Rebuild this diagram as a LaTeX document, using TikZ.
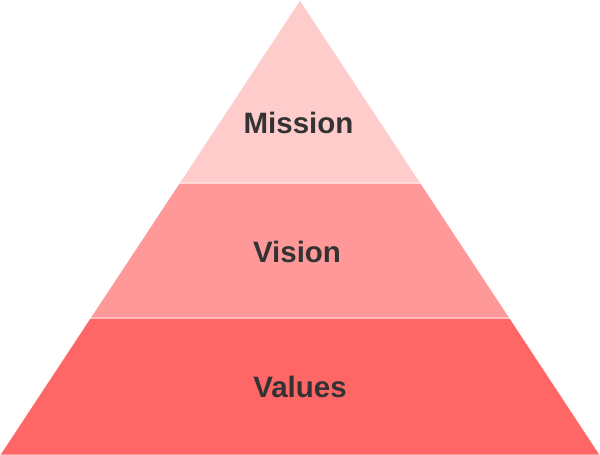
\documentclass[tikz,border=0pt]{standalone}
\usepackage{fontspec}
\setmainfont{Liberation Sans}
\usepackage{xcolor}
\usetikzlibrary{positioning}

\definecolor{tierlight}{HTML}{FFCCCC}
\definecolor{tiermid}{HTML}{FF9999}
\definecolor{tierdark}{HTML}{FF6666}
\definecolor{labelgray}{HTML}{333333}

\begin{document}
\begin{tikzpicture}[
  x=1pt, y=-1pt,
  tier/.style={fill=#1, draw=white, line width=0.6pt, line join=miter},
  lbl/.style={font=\fontsize{29.5}{35}\selectfont\bfseries, text=labelgray,
              anchor=base, inner sep=0pt},
]
\useasboundingbox (0,0) rectangle (600,455);

%% ===== CORNERS =====
\coordinate (apex) at (300,0);
\coordinate (upl) at (179.4,183);
\coordinate (upr) at (420.6,183);
\coordinate (lowl) at (90.3,318);
\coordinate (lowr) at (509.7,318);
\coordinate (basel) at (0,455);
\coordinate (baser) at (600,455);

%% ===== TIERS =====
\path[tier=tierdark] (lowl) -- (lowr) -- (baser) -- (basel) -- cycle;
\path[tier=tiermid] (upl) -- (upr) -- (lowr) -- (lowl) -- cycle;
\path[tier=tierlight] (apex) -- (upr) -- (upl) -- cycle;

%% ===== LABELS =====
\node[lbl] (mission) at (298.5,133) {Mission};
\node[lbl] (vision) at (297,262) {Vision};
\node[lbl] (values) at (300,397) {Values};

\end{tikzpicture}
\end{document}
